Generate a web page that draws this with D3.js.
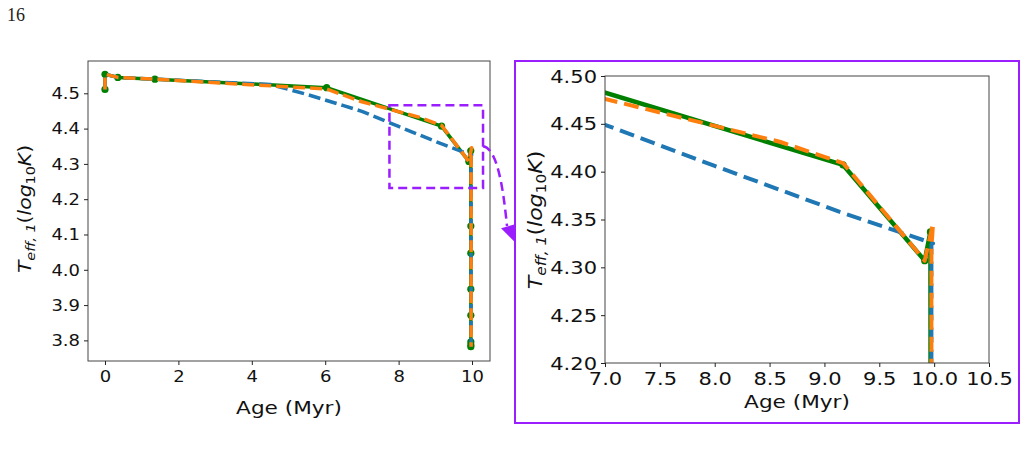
<!DOCTYPE html>
<html>
<head>
<meta charset="utf-8">
<script src="https://cdn.jsdelivr.net/npm/d3@7"></script>
<style>
  body { margin: 0; background: #fff; }
  svg { display: block; font-family: "DejaVu Sans", sans-serif; }
</style>
</head>
<body>
<svg width="1026" height="449"></svg>
<script>
// star 1 effective temperature vs age, three model runs
const ageGreen = [0, 0, 0.35, 1.36, 6.04, 9.17, 9.914, 9.966, 9.968, 9.968, 9.968, 9.968, 9.968, 9.968, 9.968];
const teffGreen = [4.511, 4.554, 4.545, 4.54, 4.516, 4.407, 4.307, 4.337, 4.124, 4.047, 3.945, 3.871, 3.796, 3.787, 3.782];

const ageOrange = [0, 0, 0.35, 1.36, 6.04, 7.0, 8.6, 9.17, 9.914, 9.99, 9.975, 9.975];
const teffOrange = [4.511, 4.554, 4.545, 4.54, 4.512, 4.476, 4.431, 4.409, 4.307, 4.346, 4.32, 3.782];

const ageBlue = [0, 0, 0.35, 1.36, 4.5, 5.5, 6.5, 7.0, 8.0, 9.14, 9.99, 9.975, 9.975];
const teffBlue = [4.511, 4.554, 4.545, 4.54, 4.525, 4.497, 4.465, 4.449, 4.406, 4.358, 4.325, 4.324, 3.782];

// tick labels
const leftXTicks = [0, 2, 4, 6, 8, 10];
const leftYTicks = [3.8, 3.9, 4.0, 4.1, 4.2, 4.3, 4.4, 4.5];
const rightXTicks = [7.0, 7.5, 8.0, 8.5, 9.0, 9.5, 10.0, 10.5];
const rightYTicks = [4.2, 4.25, 4.3, 4.35, 4.4, 4.45, 4.5];

// zoomed region marked on the left panel
const zoomAge = [7.75, 10.3];
const zoomTeff = [4.232, 4.466];

const purple = "#9b1eff";
const sx = 1.2; // the picture is a bit wider than tall

const svg = d3.select("svg");
const defs = svg.append("defs");

// drawing order: green underneath, then blue, orange on top
const series = [
  { age: ageGreen, teff: teffGreen, color: "#008000", dash: false, dots: true },
  { age: ageBlue, teff: teffBlue, color: "#1f77b4", dash: true },
  { age: ageOrange, teff: teffOrange, color: "#ff7f0e", dash: true },
];

function panel(opts) {
  const { id, box, xDomain, yDomain, xTicks, yTicks, xFmt, yFmt, tickSize, labelSize, yLab, lw, dashArr } = opts;
  const x = d3.scaleLinear().domain(xDomain).range([box.x0, box.x1]);
  const y = d3.scaleLinear().domain(yDomain).range([box.y1, box.y0]);

  defs.append("clipPath").attr("id", id)
    .append("rect")
    .attr("x", box.x0).attr("y", box.y0)
    .attr("width", box.x1 - box.x0).attr("height", box.y1 - box.y0);

  const g = svg.append("g");
  const plot = g.append("g").attr("clip-path", `url(#${id})`);

  const line = d3.line().x((d) => x(d[0])).y((d) => y(d[1]));

  for (const s of series) {
    const pts = s.age.map((a, i) => [a, s.teff[i]]);
    plot.append("path")
      .attr("d", line(pts))
      .attr("fill", "none")
      .attr("stroke", s.color)
      .attr("stroke-width", s.dash ? lw.dash : lw.solid)
      .attr("stroke-linejoin", "round")
      .attr("stroke-dasharray", s.dash ? dashArr : null);
    if (s.dots) {
      plot.append("g")
        .selectAll("circle")
        .data(pts)
        .enter()
        .append("circle")
        .attr("cx", (d) => x(d[0]))
        .attr("cy", (d) => y(d[1]))
        .attr("r", lw.dot)
        .attr("fill", s.color);
    }
  }

  // spines
  g.append("rect")
    .attr("x", box.x0).attr("y", box.y0)
    .attr("width", box.x1 - box.x0).attr("height", box.y1 - box.y0)
    .attr("fill", "none")
    .attr("stroke", "#444")
    .attr("stroke-width", 1);

  const xAxis = g.append("g")
    .attr("transform", `translate(0,${box.y1})`)
    .call(d3.axisBottom(x).tickValues(xTicks).tickFormat(d3.format(xFmt)).tickSize(4));
  const yAxis = g.append("g")
    .attr("transform", `translate(${box.x0},0)`)
    .call(d3.axisLeft(y).tickValues(yTicks).tickFormat(d3.format(yFmt)).tickSize(4));

  for (const ax of [xAxis, yAxis]) {
    ax.select(".domain").remove();
    ax.selectAll("line").attr("stroke", "#222");
    ax.selectAll("text")
      .attr("font-size", tickSize)
      .attr("font-family", "DejaVu Sans")
      .attr("fill", "#111")
      .attr("transform", `scale(${sx},1)`);
  }
  // tick labels are stretched a little horizontally
  xAxis.selectAll("text").attr("x", 0).attr("dy", null).attr("y", box.tickY);
  yAxis.selectAll("text").attr("x", -box.tickX / sx).attr("dy", "0.35em");

  // x label
  g.append("text")
    .attr("transform", `translate(${(box.x0 + box.x1) / 2},${box.xLabelY}) scale(${sx},1)`)
    .attr("text-anchor", "middle")
    .attr("font-size", labelSize)
    .attr("fill", "#111")
    .text("Age (Myr)");

  // y label: T_eff,1 (log_10 K)
  const fs = yLab.size;
  const yl = g.append("text")
    .attr("transform", `translate(${yLab.x},${yLab.y}) rotate(-90) scale(${yLab.k},1)`)
    .attr("text-anchor", "middle")
    .attr("font-size", fs)
    .attr("fill", "#111");
  const sub = fs * 0.7;
  yl.append("tspan").attr("font-style", "italic").text("T");
  yl.append("tspan").attr("font-style", "italic").attr("font-size", sub).attr("dy", fs * 0.22).text("eff, 1");
  yl.append("tspan").attr("dy", -fs * 0.22).text("(");
  yl.append("tspan").attr("font-style", "italic").text("log");
  yl.append("tspan").attr("font-size", sub).attr("dy", fs * 0.22).text("10");
  yl.append("tspan").attr("font-style", "italic").attr("dy", -fs * 0.22).text("K");
  yl.append("tspan").text(")");

  return { x, y, g };
}

const left = panel({
  id: "clipL",
  box: { x0: 88, x1: 490, y0: 61, y1: 361, tickX: 8, tickY: 21, xLabelY: 414 },
  xDomain: [-0.463, 10.49],
  yDomain: [3.7416, 4.5915],
  xTicks: leftXTicks,
  yTicks: leftYTicks,
  xFmt: "d",
  yFmt: ".1f",
  tickSize: 15,
  labelSize: 18,
  yLab: { x: 31, y: 209, size: 17, k: 1.2 },
  lw: { solid: 3.5, dash: 3.5, dot: 3.6 },
  dashArr: "12,5",
});

const right = panel({
  id: "clipR",
  box: { x0: 605, x1: 989, y0: 76, y1: 363, tickX: 8, tickY: 22, xLabelY: 408 },
  xDomain: [7.0, 10.5],
  yDomain: [4.2, 4.5],
  xTicks: rightXTicks,
  yTicks: rightYTicks,
  xFmt: ".1f",
  yFmt: ".2f",
  tickSize: 17.5,
  labelSize: 18,
  yLab: { x: 542, y: 220, size: 19, k: 1.16 },
  lw: { solid: 4.5, dash: 4, dot: 3.6 },
  dashArr: "15,7",
});

// dashed box on the left panel marking the zoomed area
const zx0 = left.x(zoomAge[0]), zx1 = left.x(zoomAge[1]);
const zy0 = left.y(zoomTeff[1]), zy1 = left.y(zoomTeff[0]);
svg.append("rect")
  .attr("x", zx0).attr("y", zy0)
  .attr("width", zx1 - zx0).attr("height", zy1 - zy0)
  .attr("fill", "none")
  .attr("stroke", purple)
  .attr("stroke-width", 2.5)
  .attr("stroke-dasharray", "9,5");

// frame round the zoomed panel
svg.append("rect")
  .attr("x", 515).attr("y", 61)
  .attr("width", 504).attr("height", 362)
  .attr("fill", "none")
  .attr("stroke", purple)
  .attr("stroke-width", 2);

// curved dashed arrow from the box to the frame
const ay = left.y(4.35);
svg.append("path")
  .attr("d", `M${zx1},${ay} C${zx1 + 14},${ay + 2} ${zx1 + 20},${ay + 40} ${zx1 + 24},${ay + 80}`)
  .attr("fill", "none")
  .attr("stroke", purple)
  .attr("stroke-width", 2.5)
  .attr("stroke-dasharray", "9,5");
svg.append("path")
  .attr("d", `M${zx1 + 18},${ay + 82} L${zx1 + 32},${ay + 78} L${zx1 + 33},${ay + 97} Z`)
  .attr("fill", purple);

// page number from the source document
svg.append("text")
  .attr("x", 7).attr("y", 21)
  .attr("font-family", "Liberation Serif, serif")
  .attr("font-size", 18)
  .attr("fill", "#222")
  .text("16");
</script>
</body>
</html>
